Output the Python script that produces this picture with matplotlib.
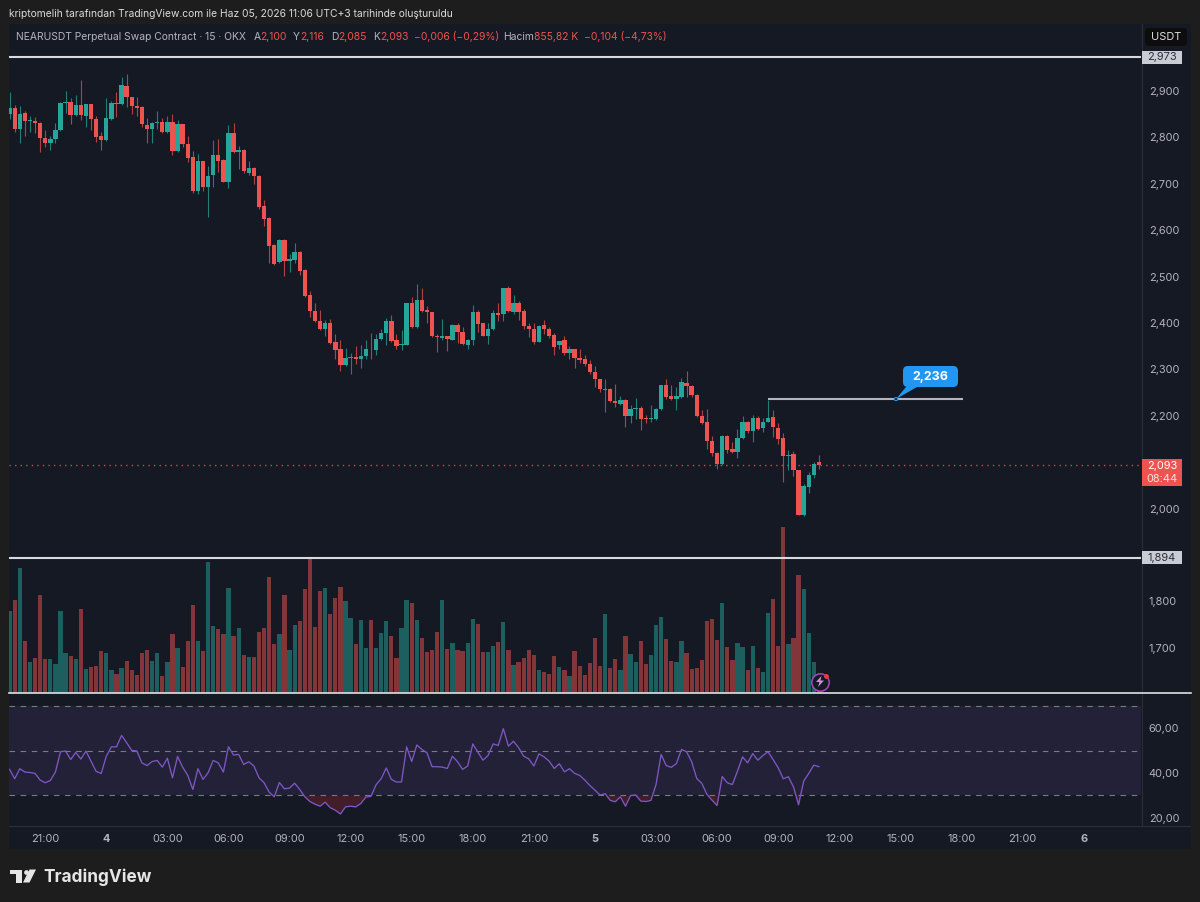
import matplotlib
matplotlib.use("Agg")
import matplotlib.pyplot as plt
from matplotlib.patches import Rectangle, Polygon, Circle, FancyBboxPatch

plt.rcParams['font.family'] = ['Inter', 'DejaVu Sans']

opens = [2.851,2.864,2.818,2.852,2.835,2.836,2.831,2.798,2.788,2.797,
 2.815,2.874,2.876,2.849,2.869,2.847,2.871,2.840,2.802,2.795,
 2.839,2.874,2.872,2.911,2.888,2.867,2.865,2.827,2.818,2.831,
 2.833,2.811,2.834,2.770,2.828,2.786,2.757,2.684,2.749,2.694,
 2.718,2.761,2.752,2.704,2.809,2.769,2.773,2.724,2.734,2.716,
 2.652,2.626,2.569,2.531,2.578,2.533,2.536,2.553,2.515,2.460,
 2.426,2.404,2.388,2.400,2.358,2.343,2.309,2.325,2.326,2.322,
 2.328,2.345,2.341,2.366,2.378,2.404,2.363,2.353,2.353,2.443,
 2.391,2.450,2.427,2.423,2.373,2.368,2.371,2.364,2.396,2.381,
 2.353,2.363,2.424,2.399,2.373,2.386,2.421,2.420,2.476,2.424,
 2.444,2.425,2.393,2.387,2.360,2.395,2.387,2.375,2.352,2.363,
 2.335,2.343,2.325,2.322,2.311,2.295,2.279,2.256,2.257,2.232,
 2.226,2.235,2.199,2.215,2.217,2.195,2.194,2.193,2.215,2.267,
 2.242,2.236,2.241,2.271,2.264,2.244,2.200,2.186,2.146,2.119,
 2.096,2.156,2.128,2.122,2.152,2.187,2.167,2.196,2.174,2.187,
 2.198,2.174,2.152,2.113,2.117,2.083,1.987,2.047,2.073,2.100]
closes = [2.864,2.818,2.851,2.835,2.836,2.831,2.798,2.789,2.797,2.815,
 2.874,2.876,2.849,2.869,2.849,2.872,2.839,2.801,2.795,2.841,
 2.874,2.871,2.912,2.888,2.867,2.864,2.828,2.819,2.831,2.833,
 2.811,2.834,2.770,2.828,2.785,2.756,2.684,2.749,2.693,2.716,
 2.761,2.750,2.704,2.809,2.769,2.773,2.727,2.734,2.716,2.651,
 2.625,2.567,2.528,2.578,2.534,2.537,2.553,2.513,2.458,2.425,
 2.404,2.388,2.400,2.357,2.341,2.309,2.325,2.327,2.322,2.329,
 2.343,2.343,2.366,2.379,2.404,2.361,2.351,2.355,2.443,2.391,
 2.450,2.426,2.423,2.371,2.370,2.371,2.365,2.396,2.381,2.354,
 2.363,2.424,2.397,2.373,2.387,2.421,2.418,2.475,2.425,2.443,
 2.424,2.393,2.386,2.360,2.394,2.386,2.373,2.348,2.361,2.335,
 2.343,2.325,2.321,2.311,2.295,2.279,2.257,2.258,2.231,2.227,
 2.234,2.199,2.214,2.216,2.194,2.193,2.195,2.215,2.267,2.241,
 2.236,2.242,2.272,2.264,2.244,2.199,2.185,2.145,2.119,2.096,
 2.156,2.127,2.122,2.152,2.187,2.167,2.195,2.172,2.187,2.196,
 2.175,2.150,2.113,2.116,2.083,1.987,2.048,2.073,2.097,2.093]
highs = [2.897,2.869,2.867,2.856,2.847,2.845,2.833,2.815,2.802,2.831,
 2.876,2.900,2.885,2.892,2.923,2.872,2.872,2.847,2.811,2.885,
 2.878,2.897,2.930,2.936,2.888,2.888,2.867,2.842,2.834,2.857,
 2.842,2.847,2.851,2.838,2.829,2.804,2.770,2.765,2.750,2.739,
 2.795,2.797,2.753,2.826,2.831,2.782,2.775,2.750,2.736,2.718,
 2.665,2.628,2.571,2.580,2.580,2.549,2.572,2.555,2.517,2.470,
 2.443,2.427,2.407,2.409,2.376,2.364,2.347,2.335,2.350,2.352,
 2.363,2.378,2.377,2.388,2.411,2.417,2.376,2.384,2.443,2.457,
 2.485,2.476,2.436,2.424,2.377,2.409,2.372,2.397,2.399,2.391,
 2.366,2.438,2.429,2.400,2.400,2.427,2.443,2.476,2.479,2.460,
 2.447,2.431,2.400,2.400,2.395,2.406,2.391,2.378,2.362,2.372,
 2.350,2.345,2.343,2.330,2.320,2.307,2.280,2.280,2.260,2.268,
 2.242,2.236,2.223,2.239,2.221,2.201,2.223,2.216,2.267,2.280,
 2.267,2.262,2.282,2.297,2.266,2.246,2.212,2.214,2.156,2.121,
 2.158,2.158,2.144,2.172,2.199,2.188,2.201,2.199,2.195,2.234,
 2.213,2.185,2.162,2.127,2.124,2.084,2.054,2.079,2.101,2.116]
lows = [2.840,2.811,2.788,2.802,2.811,2.809,2.768,2.780,2.773,2.787,
 2.813,2.853,2.829,2.847,2.838,2.823,2.816,2.791,2.772,2.793,
 2.838,2.845,2.870,2.865,2.851,2.847,2.822,2.789,2.789,2.818,
 2.809,2.809,2.761,2.768,2.779,2.747,2.680,2.678,2.684,2.628,
 2.694,2.725,2.703,2.691,2.767,2.732,2.723,2.718,2.699,2.646,
 2.610,2.530,2.526,2.529,2.501,2.510,2.529,2.504,2.456,2.413,
 2.402,2.384,2.373,2.354,2.323,2.297,2.307,2.291,2.312,2.304,
 2.323,2.323,2.330,2.363,2.352,2.359,2.345,2.341,2.352,2.389,
 2.389,2.424,2.400,2.370,2.338,2.363,2.340,2.363,2.357,2.352,
 2.345,2.352,2.381,2.371,2.355,2.384,2.404,2.404,2.424,2.420,
 2.407,2.388,2.370,2.354,2.359,2.376,2.368,2.330,2.345,2.330,
 2.323,2.304,2.313,2.307,2.290,2.262,2.252,2.208,2.230,2.218,
 2.223,2.175,2.185,2.194,2.169,2.185,2.187,2.190,2.212,2.237,
 2.234,2.212,2.239,2.241,2.241,2.198,2.183,2.129,2.113,2.086,
 2.095,2.119,2.119,2.108,2.151,2.163,2.144,2.169,2.165,2.186,
 2.155,2.139,2.058,2.083,2.070,1.986,1.984,2.034,2.067,2.085]

volumes_k = [2450,2770,3750,1550,920,1030,2930,1020,1000,870,
 2450,1180,1100,1000,2510,720,780,790,1250,1190,
 690,560,740,940,670,520,1190,1270,940,1190,
 510,910,1760,1330,780,1540,2620,1540,1250,3930,
 2010,1910,1760,3130,1690,1940,1130,1080,1070,1820,
 1940,3470,1470,1750,2930,1290,2030,2150,3120,4050,
 1970,3050,3140,2350,2830,3170,2740,2250,1450,2180,
 1330,2180,1340,1800,2160,1690,1040,1930,2770,2700,
 2180,1640,1210,1270,1820,2770,1310,1490,1290,1250,
 1490,2220,2050,1220,1210,1400,1510,2130,1270,820,
 910,1050,1270,1130,670,620,560,1100,770,690,
 510,1240,790,530,890,1650,800,2360,730,1000,
 670,1710,1150,920,1540,860,1120,2040,2280,1600,
 960,930,1540,1190,720,750,980,2140,2220,1580,
 2690,1370,970,1480,1380,670,1390,730,610,2380,
 2820,1390,4970,1470,1630,3530,3110,1780,910,86]

rsi = [41.7,37.5,42.0,40.5,40.3,39.9,36.9,35.7,36.7,40.5,
 49.6,49.9,46.1,49.3,46.3,49.9,45.4,40.8,39.9,47.6,
 51.8,51.8,56.9,53.6,50.2,49.9,44.6,43.4,45.2,45.7,
 42.7,46.7,37.9,47.5,42.7,39.0,32.7,42.0,37.2,40.2,
 45.7,44.6,40.5,51.8,48.1,48.4,43.9,45.1,43.2,37.9,
 35.7,31.5,29.4,35.8,33.0,33.3,35.5,32.7,29.4,27.3,
 26.1,25.2,27.0,24.5,23.4,21.7,24.9,25.2,24.9,26.4,
 29.3,29.6,34.8,37.5,42.3,37.2,36.0,36.1,51.8,45.2,
 52.6,50.6,49.1,42.9,42.9,42.7,42.1,47.6,45.1,41.7,
 43.2,53.1,49.4,45.8,47.9,53.1,52.4,59.9,52.1,54.3,
 51.4,47.6,46.4,43.2,48.7,47.3,45.4,42.1,44.2,40.6,
 42.0,39.9,39.0,36.9,34.5,32.4,30.2,30.8,27.8,27.2,
 29.4,25.2,30.0,30.2,27.5,27.3,27.8,34.9,48.4,43.4,
 42.6,44.3,50.6,49.6,45.1,37.6,35.4,30.5,27.9,25.5,
 38.5,35.7,34.9,40.9,47.3,44.6,48.8,45.8,47.9,49.6,
 46.1,42.4,37.5,38.4,33.9,25.8,36.4,39.9,43.6,42.9]

time_labels = ["21:00","4","03:00","06:00","09:00","12:00","15:00","18:00","21:00",
               "5","03:00","06:00","09:00","12:00","15:00","18:00","21:00","6"]
price_ticks = [2.9,2.8,2.7,2.6,2.5,2.4,2.3,2.2,2.0,1.8,1.7]
price_tick_labels = ["2,900","2,800","2,700","2,600","2,500","2,400","2,300","2,200","2,000","1,800","1,700"]
rsi_ticks = [60,40,20]
rsi_tick_labels = ["60,00","40,00","20,00"]
rsi_bands = [70,50,30]
level_high = 2.973
level_low = 1.894
level_drawn = 2.236
last_price = 2.093

W, H = 1200, 902
BG = '#1d1d1d'; PANE = '#151924'; GRID = '#2a2e39'; TXT = '#b2b5be'
UP = '#26a69a'; DOWN = '#ef5350'

fig = plt.figure(figsize=(W/100, H/100), dpi=100, facecolor=BG)

def axpx(x0, y0, x1, y1, **kw):
    return fig.add_axes([x0/W, 1-y1/H, (x1-x0)/W, (y1-y0)/H], **kw)

def px(x, y):
    return x/W, 1-y/H

def frect(x0, y0, x1, y1, **kw):
    p = Rectangle(px(x0, y1), (x1-x0)/W, (y1-y0)/H, transform=fig.transFigure, **kw)
    fig.add_artist(p)
    return p

frect(9, 24, 1190.5, 849, facecolor=PANE, edgecolor='none', zorder=0)

n = len(closes)
x = list(range(n))
XL = ((9-9.6)/5.09, (1141-9.6)/5.09)
Y0 = 24; Y1 = 692.5; SCALE = 464.0; Y29 = 91.0
ylim_main = (2.9-(Y1-Y29)/SCALE, 2.9+(Y29-Y0)/SCALE)

# volume pane (behind price)
ax_vol = axpx(9, Y0, 1141, Y1, facecolor='none', zorder=1)
ax_vol.set_xlim(*XL)
ax_vol.set_ylim(0, (Y1-Y0)*30)
vcols = [UP if c >= o else DOWN for o, c in zip(opens, closes)]
ax_vol.bar(x, volumes_k, width=0.84, color=vcols, alpha=0.5, linewidth=0)
ax_vol.axis('off')

# price pane
ax = axpx(9, Y0, 1141, Y1, facecolor='none', zorder=2)
ax.set_xlim(*XL)
ax.set_ylim(*ylim_main)
for s in ax.spines.values():
    s.set_visible(False)
ax.vlines(x, lows, highs, colors=vcols, linewidth=0.8, alpha=0.72, zorder=3)
ax.bar(x, [abs(c-o) if abs(c-o) > 0.002 else 0.002 for o, c in zip(opens, closes)],
       bottom=[min(o, c) for o, c in zip(opens, closes)], width=0.86, color=vcols, linewidth=0, zorder=4)
ax.axhline(level_high, color='#d8dae0', lw=1.5, zorder=5)
ax.axhline(level_low, color='#d8dae0', lw=1.5, zorder=5)
ax.axhline(last_price, color=DOWN, lw=1.0, ls=(0, (1, 3)), alpha=0.85, zorder=2)
ax.hlines(level_drawn, (768-9.6)/5.09, (963-9.6)/5.09, color='#b2b5be', lw=1.5, zorder=5)
ax.set_xticks([])
ax.yaxis.tick_right()
ax.set_yticks(price_ticks)
ax.set_yticklabels(price_tick_labels, fontsize=7.9, color=TXT)
ax.tick_params(axis='y', length=0, pad=5.5)

# RSI pane
ax_r = axpx(9, 693.5, 1141, 826, facecolor='none', zorder=2)
ax_r.set_xlim(*XL)
RS = 2.233
ax_r.set_ylim(60-(826-728.5)/RS, 60+(728.5-693.5)/RS)
ax_r.axhspan(min(rsi_bands), max(rsi_bands), color='#7e57c2', alpha=0.13, linewidth=0, zorder=1)
for b in rsi_bands:
    ax_r.axhline(b, color='#787b86', lw=0.8, ls=(0, (5, 5)), zorder=2)
ax_r.fill_between(x, rsi, 30, where=[r < 30 for r in rsi], interpolate=True,
                  color='#f23645', alpha=0.2, linewidth=0, zorder=2)
ax_r.plot(x, rsi, color='#7e57c2', lw=0.95, zorder=3)
for s in ax_r.spines.values():
    s.set_visible(False)
ax_r.yaxis.tick_right()
ax_r.set_yticks(rsi_ticks)
ax_r.set_yticklabels(rsi_tick_labels, fontsize=7.9, color=TXT)
ax_r.tick_params(axis='y', length=0, pad=5.5)
tick_pos = [7+12*k for k in range(len(time_labels))]
ax_r.set_xticks(tick_pos)
ax_r.set_xticklabels(time_labels, fontsize=7.9, color=TXT)
for lab, t in zip(ax_r.get_xticklabels(), time_labels):
    if len(t) == 1:
        lab.set_fontweight('bold')
ax_r.tick_params(axis='x', length=0, pad=6)

# separators
fig.add_artist(plt.Line2D([1141.5/W]*2, [1-24/H, 1-826/H], color=GRID, lw=0.8, transform=fig.transFigure, zorder=6))
fig.add_artist(plt.Line2D([9/W, 1190/W], [1-826/H]*2, color=GRID, lw=0.8, transform=fig.transFigure, zorder=6))
fig.add_artist(plt.Line2D([9/W, 1191/W], [1-692.7/H]*2, color='#dfe1e6', lw=1.2, transform=fig.transFigure, zorder=6))

def ftext(xp, yp, s, **kw):
    kw.setdefault('va', 'center')
    kw.setdefault('zorder', 8)
    return fig.text(*px(xp, yp), s, **kw)

# header
ftext(9, 14, "kriptomelih tarafından TradingView.com ile Haz 05, 2026 11:06 UTC+3 tarihinde oluşturuldu",
      fontsize=7.4, color='#dcdcdc')
ftext(15.5, 37, "NEARUSDT Perpetual Swap Contract · 15 · OKX", fontsize=7.45, color=TXT)
for xp, s, c in [(253.5, "A", TXT), (260, "2,100", DOWN), (293, "Y", TXT), (300, "2,116", DOWN),
                 (331, "D", TXT), (338, "2,085", DOWN), (373, "K", TXT), (380, "2,093", DOWN),
                 (414, "−0,006 (−0,29%)", DOWN), (503.5, "Hacim", TXT), (533.5, "855,82 K", DOWN),
                 (583.5, "−0,104 (−4,73%)", DOWN)]:
    ftext(xp, 37, s, fontsize=7.45, color=c)

# price scale labels
def ypx(v):
    return (1-ax.transData.transform((0, v))[1]/fig.bbox.height)*H

for v, s in [(level_high, "2,973"), (level_low, "1,894")]:
    yp = ypx(v)
    frect(1142, yp-6.5, 1182, yp+6.5, facecolor='#c9ccd4', edgecolor='none', zorder=7)
    ftext(1162, yp, s, ha='center', fontsize=7.9, color='#2a2e39')
frect(1142, 459.5, 1182, 486.5, facecolor=DOWN, edgecolor='none', zorder=7)
ftext(1162, 466, "2,093", ha='center', fontsize=7.9, color='#ffffff')
ftext(1162, 479, "08:44", ha='center', fontsize=7.9, color='#ffe3e3')

# USDT button
btn = FancyBboxPatch(px(1145, 46), 42/W, 18/H, boxstyle="round,pad=0,rounding_size=0.003",
                     transform=fig.transFigure, facecolor='#0d0d0d', edgecolor='none', zorder=7, mutation_aspect=1.33)
fig.add_artist(btn)
ftext(1166, 37, "USDT", ha='center', fontsize=7.9, color='#e0e0e0')

# callout
yl = ypx(level_drawn)
fig.add_artist(Polygon([px(896, yl), px(906, 387), px(917, 387)], closed=True, transform=fig.transFigure,
                       facecolor='#2196f3', edgecolor='none', zorder=7))
box = FancyBboxPatch(px(903, 387), 55/W, 21/H, boxstyle="round,pad=0,rounding_size=0.004",
                     transform=fig.transFigure, facecolor='#2196f3', edgecolor='none', zorder=7, mutation_aspect=1.33)
fig.add_artist(box)
ftext(930, 376.5, "2,236", ha='center', fontsize=9, fontweight='bold', color='#ffffff')
fig.add_artist(Circle(px(896, yl), 0.0016, transform=fig.transFigure, facecolor=PANE, edgecolor='#2196f3', lw=0.8, zorder=8))

# lightning badge
fig.add_artist(plt.Line2D([820/W], [1-681.5/H], marker='o', ms=12.5, mfc=PANE, mec='#ab47bc', mew=1.1,
                          ls='none', transform=fig.transFigure, zorder=8))
fig.add_artist(Polygon([px(821.5, 676), px(816, 682), px(819.5, 682), px(818, 687), px(824, 680.5), px(820.5, 680.5)],
                       closed=True, transform=fig.transFigure, facecolor='#ce93d8', edgecolor='none', zorder=9))
fig.add_artist(plt.Line2D([825.5/W], [1-675.5/H], marker='o', ms=3.5, mfc='#f23645', mec='none',
                          ls='none', transform=fig.transFigure, zorder=9))

# TradingView logo
LC = '#e6e6e6'
fig.add_artist(Polygon([px(10, 869.5), px(22, 869.5), px(22, 882.5), px(15.5, 882.5), px(15.5, 874), px(10, 874)],
                       closed=True, transform=fig.transFigure, facecolor=LC, edgecolor='none', zorder=8))
fig.add_artist(plt.Line2D([26/W], [1-871.8/H], marker='o', ms=3.4, mfc=LC, mec='none', ls='none',
                          transform=fig.transFigure, zorder=8))
fig.add_artist(Polygon([px(29.5, 869.5), px(36, 869.5), px(29.5, 882.5), px(23, 882.5)],
                       closed=True, transform=fig.transFigure, facecolor=LC, edgecolor='none', zorder=8))
ftext(43, 877, "TradingView", fontsize=12.4, fontweight='bold', color=LC)

fig.savefig('out.png', dpi=100, facecolor=BG)
